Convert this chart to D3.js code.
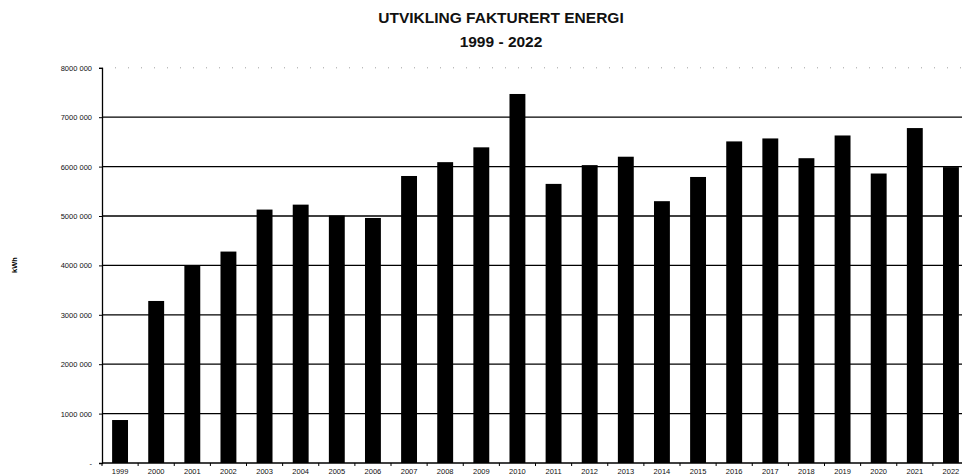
<!DOCTYPE html>
<html><head><meta charset="utf-8">
<script src="https://cdn.jsdelivr.net/npm/d3@7/dist/d3.min.js"></script>
<style>body{margin:0;background:#fff}svg{display:block}</style>
</head><body>
<script>
const years = ["1999","2000","2001","2002","2003","2004","2005","2006","2007","2008","2009","2010","2011","2012","2013","2014","2015","2016","2017","2018","2019","2020","2021","2022"];
const energy = [870000,3280000,3990000,4280000,5130000,5230000,5010000,4960000,5810000,6090000,6390000,7470000,5650000,6030000,6200000,5300000,5790000,6510000,6570000,6170000,6630000,5860000,6780000,5990000];
const yTicks = [0,1000000,2000000,3000000,4000000,5000000,6000000,7000000,8000000];
const yTickLabels = ["-","1000 000","2000 000","3000 000","4000 000","5000 000","6000 000","7000 000","8000 000"];
const titleLines = ["UTVIKLING FAKTURERT ENERGI","1999 - 2022"];
const yTitle = "kWh";

const W=962,H=475;
const FONT="Liberation Sans, Arial, sans-serif";
const svg=d3.select("body").append("svg").attr("width",W).attr("height",H);
const x=d3.scaleBand().domain(years).range([102,969]).paddingInner(0.56).paddingOuter(0.28);
const y=d3.scaleLinear().domain([0,8000000]).range([463,67.8]);

// gridlines
svg.append("g").selectAll("line").data(yTicks.filter(v=>v>0)).join("line")
  .attr("x1",102).attr("x2",W).attr("y1",d=>y(d)).attr("y2",d=>y(d))
  .attr("stroke",d=>d===8000000?"#888":"#000")
  .attr("stroke-width",d=>d===8000000?0.8:1.3)
  .attr("stroke-dasharray",d=>d===8000000?"1,12":null);

// bars
svg.append("g").selectAll("rect").data(years).join("rect")
  .attr("x",d=>x(d)).attr("width",x.bandwidth())
  .attr("y",(d,i)=>y(energy[i])).attr("height",(d,i)=>y(0)-y(energy[i]))
  .attr("fill","#000");

// y axis
const ya=svg.append("g").attr("transform","translate(102,0)")
  .call(d3.axisLeft(y).tickValues(yTicks).tickSize(3).tickFormat((d,i)=>yTickLabels[i]));
ya.select(".domain").attr("stroke","#000").attr("stroke-width",1.3);
ya.selectAll("text").attr("font-family",FONT).attr("font-size","7.5px").attr("fill","#111").attr("x",-10);

// x axis
const xa=svg.append("g").attr("transform","translate(0,463)");
xa.append("line").attr("x1",102).attr("x2",W).attr("stroke","#000").attr("stroke-width",1.3);
const step=x.step();
xa.selectAll("line.t").data(years).join("line").attr("class","t")
  .attr("x1",d=>x(d)-(step-x.bandwidth())/2).attr("x2",d=>x(d)-(step-x.bandwidth())/2)
  .attr("y1",0).attr("y2",3).attr("stroke","#000");
xa.selectAll("text").data(years).join("text")
  .attr("x",d=>x(d)+x.bandwidth()/2).attr("y",11).attr("text-anchor","middle")
  .attr("font-family",FONT).attr("font-size","7.5px").attr("fill","#111").text(d=>d);

// y title
svg.append("text").attr("transform","translate(17,265) rotate(-90)").attr("text-anchor","middle")
  .attr("font-family",FONT).attr("font-size","7.5px").attr("font-weight","bold").text(yTitle);

// title
svg.append("g").selectAll("text").data(titleLines).join("text")
  .attr("x",501).attr("y",(d,i)=>23+i*23.5).attr("text-anchor","middle")
  .attr("font-family",FONT).attr("font-weight","bold")
  .attr("font-size","15.5px").attr("fill","#111").text(d=>d);
</script>
</body></html>
